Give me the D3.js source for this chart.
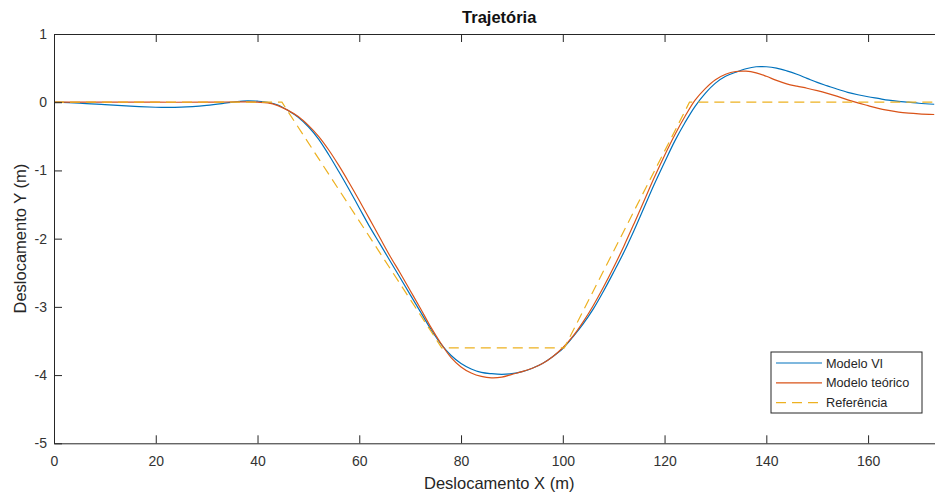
<!DOCTYPE html>
<html>
<head>
<meta charset="utf-8">
<script src="https://cdn.jsdelivr.net/npm/d3@7"></script>
<style>
body { margin: 0; background: #fff; }
svg { display: block; font-family: "Liberation Sans", Arial, sans-serif; }
.axis path, .axis line { stroke: #262626; stroke-width: 1; }
.axis text { fill: #333; font-size: 14px; font-family: "Liberation Sans", Arial, sans-serif; }
.label { fill: #262626; font-size: 16.5px; }
</style>
</head>
<body>
<div id="chart"></div>
<script>
//Chart size and plot box
const width = 935;
const height = 497;
const plotLeft = 54, plotTop = 34, plotBottom = 443.3;
const xMax = 175;
const plotRight = plotLeft + xMax * 5.088; //axis runs past the picture edge

//Data
const xTicks = [0, 20, 40, 60, 80, 100, 120, 140, 160];
const yTicks = [-5, -4, -3, -2, -1, 0, 1];

//Modelo VI (blue)
const viX = [0, 5, 10, 15, 20, 22, 25, 30, 33, 36, 38, 40, 42, 44, 46, 48, 50, 52, 54, 56, 58, 60, 62, 64, 66, 68, 70, 72, 74, 76, 78, 80, 82, 84, 86, 88, 90, 92, 94, 96, 98, 100, 102, 104, 106, 108, 110, 112, 114, 116, 118, 120, 122, 124, 126, 128, 130, 132, 134, 136, 138, 140, 142, 144, 146, 148, 150, 152, 154, 156, 158, 160, 162, 164, 166, 168, 170, 173];
const viY = [0, -0.012, -0.035, -0.058, -0.074, -0.077, -0.073, -0.045, -0.02, 0.01, 0.02, 0.015, 0.0, -0.04, -0.12, -0.22, -0.36, -0.54, -0.77, -1.02, -1.28, -1.55, -1.82, -2.07, -2.32, -2.57, -2.82, -3.07, -3.32, -3.54, -3.71, -3.83, -3.91, -3.96, -3.98, -3.99, -3.98, -3.95, -3.90, -3.83, -3.73, -3.61, -3.44, -3.25, -3.03, -2.77, -2.49, -2.20, -1.88, -1.54, -1.20, -0.88, -0.57, -0.30, -0.06, 0.13, 0.28, 0.38, 0.44, 0.49, 0.52, 0.52, 0.50, 0.46, 0.41, 0.35, 0.29, 0.24, 0.19, 0.145, 0.11, 0.08, 0.055, 0.03, 0.013, 0.0, -0.015, -0.03];

//Modelo teórico (orange)
const teoX = [0, 10, 20, 30, 38, 40, 42, 44, 46, 48, 50, 52, 54, 56, 58, 60, 62, 64, 66, 68, 70, 72, 74, 76, 78, 80, 82, 84, 86, 88, 90, 92, 94, 96, 98, 100, 102, 104, 106, 108, 110, 112, 114, 116, 118, 120, 122, 124, 126, 128, 130, 132, 134, 136, 138, 140, 142, 144, 146, 148, 150, 152, 154, 156, 158, 160, 162, 164, 166, 168, 170, 173];
const teoY = [0, 0, 0, 0, 0.005, 0.0, -0.01, -0.05, -0.12, -0.21, -0.34, -0.50, -0.70, -0.93, -1.18, -1.44, -1.71, -1.98, -2.25, -2.50, -2.76, -3.02, -3.29, -3.53, -3.74, -3.88, -3.97, -4.02, -4.04, -4.03, -3.99, -3.95, -3.90, -3.83, -3.73, -3.60, -3.43, -3.22, -2.98, -2.71, -2.42, -2.11, -1.78, -1.44, -1.10, -0.78, -0.48, -0.21, 0.03, 0.20, 0.33, 0.41, 0.45, 0.455, 0.43, 0.38, 0.32, 0.27, 0.235, 0.205, 0.17, 0.13, 0.085, 0.035, -0.01, -0.05, -0.09, -0.12, -0.145, -0.16, -0.17, -0.18];

//Referência (dashed yellow)
const refX = [0, 44.8, 76.2, 100.3, 124.9, 175];
const refY = [0, 0, -3.6, -3.6, 0, 0];

const series = [
    {name: "Modelo VI", xs: viX, ys: viY, color: "#0072BD", dash: null, curve: d3.curveCatmullRom},
    {name: "Modelo teórico", xs: teoX, ys: teoY, color: "#D95319", dash: null, curve: d3.curveCatmullRom},
    {name: "Referência", xs: refX, ys: refY, color: "#EDB120", dash: "10,6", curve: d3.curveLinear}
];

//Scales
const xScale = d3.scaleLinear().domain([0, xMax]).range([plotLeft, plotRight]);
const yScale = d3.scaleLinear().domain([-5, 1]).range([plotBottom, plotTop]);

const svg = d3.select("#chart")
    .append("svg")
    .attr("width", width)
    .attr("height", height);

svg.append("clipPath").attr("id", "plotClip")
    .append("rect")
    .attr("x", plotLeft).attr("y", plotTop)
    .attr("width", plotRight - plotLeft).attr("height", plotBottom - plotTop);

//Lines
const plot = svg.append("g").attr("clip-path", "url(#plotClip)");
series.forEach(s => {
    const pts = s.xs.map((x, i) => [x, s.ys[i]]);
    const line = d3.line()
        .x(d => xScale(d[0]))
        .y(d => yScale(d[1]))
        .curve(s.curve);
    plot.append("path")
        .datum(pts)
        .attr("d", line)
        .attr("fill", "none")
        .attr("stroke", s.color)
        .attr("stroke-width", 1.2)
        .attr("stroke-dasharray", s.dash);
});

//Axes, ticks point inward like MATLAB
svg.append("g")
    .attr("class", "axis")
    .attr("transform", "translate(0," + plotBottom + ")")
    .call(d3.axisBottom(xScale).tickValues(xTicks).tickSizeInner(-8).tickSizeOuter(0).tickPadding(13));

svg.append("g")
    .attr("class", "axis")
    .attr("transform", "translate(0," + plotTop + ")")
    .call(d3.axisTop(xScale).tickValues(xTicks).tickSizeInner(-8).tickSizeOuter(0).tickFormat(""));

svg.append("g")
    .attr("class", "axis")
    .attr("transform", "translate(" + plotLeft + ",0)")
    .call(d3.axisLeft(yScale).tickValues(yTicks).tickSizeInner(-8).tickSizeOuter(0).tickPadding(7)
        .tickFormat(d => String(d)));

//Title and axis labels
svg.append("text")
    .attr("x", (plotLeft + plotRight) / 2)
    .attr("y", 23)
    .attr("text-anchor", "middle")
    .style("font-size", "16.5px")
    .style("font-weight", "bold")
    .style("fill", "#111")
    .text("Trajetória");

svg.append("text")
    .attr("class", "label")
    .attr("x", (plotLeft + plotRight) / 2)
    .attr("y", 489)
    .attr("text-anchor", "middle")
    .text("Deslocamento X (m)");

svg.append("text")
    .attr("class", "label")
    .attr("transform", "translate(26," + (plotTop + plotBottom) / 2 + ") rotate(-90)")
    .attr("text-anchor", "middle")
    .text("Deslocamento Y (m)");

//Legend
const legend = svg.append("g").attr("transform", "translate(771,352)");
legend.append("rect")
    .attr("width", 151)
    .attr("height", 61)
    .attr("fill", "#fff")
    .attr("stroke", "#262626")
    .attr("stroke-width", 1);

series.forEach((s, i) => {
    const y = 11 + i * 19.8;
    legend.append("line")
        .attr("x1", 5).attr("x2", 51)
        .attr("y1", y).attr("y2", y)
        .attr("stroke", s.color)
        .attr("stroke-width", 1.2)
        .attr("stroke-dasharray", s.dash);
    legend.append("text")
        .attr("x", 55)
        .attr("y", y + 4.5)
        .style("font-size", "12.7px")
        .style("fill", "#262626")
        .text(s.name);
});
</script>
</body>
</html>
